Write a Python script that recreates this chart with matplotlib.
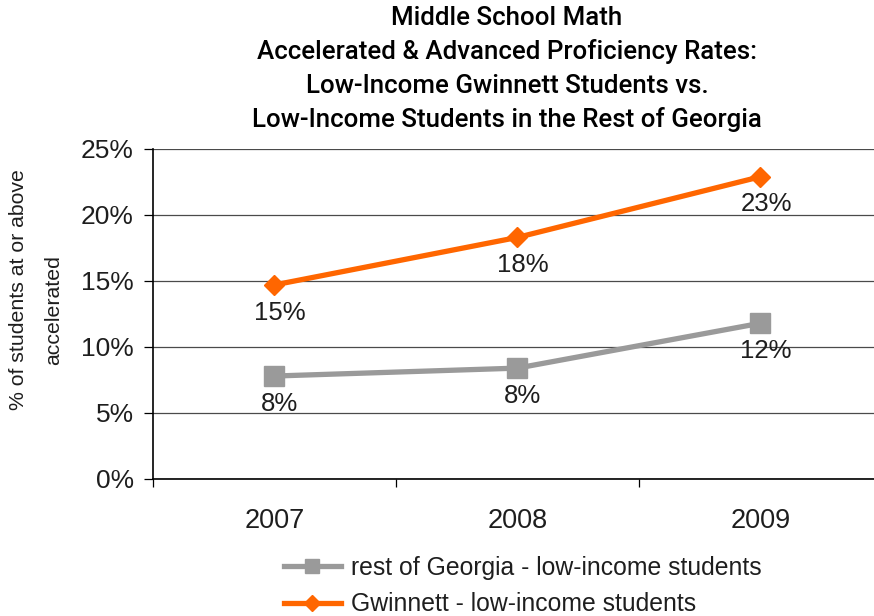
import matplotlib
matplotlib.use("Agg")
import matplotlib.pyplot as plt
from matplotlib.ticker import FixedLocator, NullFormatter, FixedFormatter

plt.rcParams['font.family'] = ['Liberation Sans', 'DejaVu Sans']

years = ["2007", "2008", "2009"]
rest_ga = [7.8, 8.4, 11.8]
gwinnett = [14.7, 18.3, 22.9]
series_names = ["rest of Georgia - low-income students", "Gwinnett - low-income students"]
title_lines = ["Middle School Math",
               "Accelerated & Advanced Proficiency Rates:",
               "Low-Income Gwinnett Students vs.",
               "Low-Income Students in the Rest of Georgia"]
ylabel_lines = ["% of students at or above", "accelerated"]
yticks = [0, 5, 10, 15, 20, 25]

W, H = 874, 616
fig = plt.figure(figsize=(W / 100, H / 100), dpi=100)
left, right, top, bottom = 152.7, 882, 149, 479
ax = fig.add_axes([left / W, 1 - bottom / H, (right - left) / W, (bottom - top) / H])

x = list(range(len(years)))
gray = "#9a9a9a"
orange = "#ff6600"
txt = "#1e1e1e"
ax.plot(x, rest_ga, color=gray, lw=3.8, marker='s', ms=14.4, label=series_names[0], zorder=3)
ax.plot(x, gwinnett, color=orange, lw=3.8, marker='D', ms=10.6, label=series_names[1], zorder=3)

for xi, v in zip(x, rest_ga):
    ax.annotate(f"{round(v):d}%", (xi, v), xytext=(4, -20), textcoords='offset points',
                ha='center', va='center', fontsize=18.5, color=txt)
for xi, v in zip(x, gwinnett):
    ax.annotate(f"{round(v):d}%", (xi, v), xytext=(4, -20), textcoords='offset points',
                ha='center', va='center', fontsize=18.5, color=txt)

ax.set_xlim(-0.5, 2.5)
ax.set_ylim(0, 25)
ax.set_yticks(yticks)
ax.set_yticklabels([f"{t}%" for t in yticks])
ax.yaxis.grid(True, color='#4a4a4a', lw=0.9)
ax.set_axisbelow(True)

ax.xaxis.set_major_locator(FixedLocator([-0.5, 0.5, 1.5, 2.5]))
ax.xaxis.set_major_formatter(NullFormatter())
ax.xaxis.set_minor_locator(FixedLocator(x))
ax.xaxis.set_minor_formatter(FixedFormatter(years))
ax.tick_params(axis='x', which='major', length=6, width=0.9, direction='out', color='black')
ax.tick_params(axis='x', which='minor', length=0, labelsize=19.5, pad=21, labelcolor=txt)
ax.tick_params(axis='y', length=6.5, width=0.9, labelsize=19, pad=7, labelcolor=txt)

ax.spines['right'].set_visible(False)
ax.spines['top'].set_visible(False)
ax.spines['left'].set_color('black')
ax.spines['bottom'].set_color('black')
ax.spines['left'].set_linewidth(1.2)
ax.spines['bottom'].set_linewidth(1.2)

# y-axis title (two rotated lines)
fig.text(19 / W, 1 - 290 / H, ylabel_lines[0], rotation=90, ha='center', va='center',
         fontsize=15.3, color=txt)
fig.text(54 / W, 1 - 310 / H, ylabel_lines[1], rotation=90, ha='center', va='center',
         fontsize=15.3, color=txt)

# chart title
for i, line in enumerate(title_lines):
    fig.text(507 / W, 1 - (18 + 34 * i) / H, line, ha='center', va='center',
             fontsize=18.6, fontweight=500, color='black', family=['Roboto', 'DejaVu Sans'])

leg = fig.legend(loc='upper left', bbox_to_anchor=(284 / W, 1 - 556 / H), frameon=False,
                 fontsize=17.8, handlelength=2.3, handletextpad=0.4, labelspacing=0.5,
                 borderaxespad=0, borderpad=0)
for t in leg.get_texts():
    t.set_color(txt)
hs = leg.legend_handles
hs[0].set_markersize(10)
hs[1].set_markersize(8)

fig.savefig("out.png", dpi=100)
